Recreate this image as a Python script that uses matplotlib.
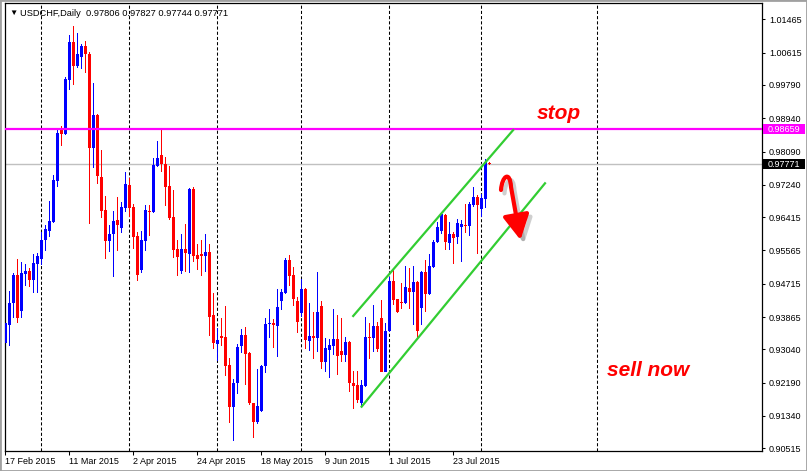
import numpy as np
import matplotlib
matplotlib.use('Agg')
import matplotlib.pyplot as plt
import matplotlib.patheffects as pe
import matplotlib.transforms as mtransforms
from matplotlib.path import Path
from matplotlib.patches import FancyArrowPatch, Rectangle

plt.rcParams['font.family'] = ['Liberation Sans', 'DejaVu Sans']

# USDCHF daily bars, 17 Feb 2015 .. 5 Aug 2015
opens = [
    0.93192, 0.93660, 0.94213, 0.94937, 0.94026, 0.94962, 0.95039, 0.94809, 0.95218, 0.95345,
    0.95830, 0.96069, 0.96281, 0.97337, 0.98664, 0.98528, 0.99915, 1.00877, 1.00281, 1.00511,
    1.00783, 1.00579, 0.98188, 0.99022, 0.97447, 0.96596, 0.95805, 0.95975, 0.96341, 0.96145,
    0.96656, 0.97235, 0.96664, 0.95933, 0.95064, 0.95813, 0.96579, 0.96537, 0.97728, 0.98000,
    0.97771, 0.97209, 0.96409, 0.95601, 0.95047, 0.95592, 0.95473, 0.97132, 0.95447, 0.95473,
    0.95430, 0.95533, 0.93916, 0.93175, 0.93380, 0.93362, 0.92639, 0.91575, 0.92171, 0.93133,
    0.93406, 0.92938, 0.91661, 0.91193, 0.91474, 0.92623, 0.93678, 0.93721, 0.93644, 0.94282,
    0.94486, 0.95320, 0.94937, 0.94282, 0.93976, 0.94580, 0.93261, 0.93380, 0.93338, 0.94155,
    0.92725, 0.93023, 0.93133, 0.93295, 0.92997, 0.92895, 0.93235, 0.92172, 0.92129, 0.91661,
    0.92104, 0.93363, 0.93338, 0.93635, 0.93831, 0.92470, 0.93508, 0.94793, 0.94316, 0.94257,
    0.94214, 0.94614, 0.94495, 0.94767, 0.94103, 0.95023, 0.94444, 0.95150, 0.95771, 0.96069,
    0.96469, 0.95746, 0.95984, 0.95899, 0.96171, 0.96214, 0.96197, 0.96725, 0.96937, 0.96622,
    0.96878, 0.97806]
highs = [
    0.93788, 0.94537, 0.94996, 0.95345, 0.95260, 0.95218, 0.95107, 0.95473, 0.95490, 0.96026,
    0.96213, 0.96826, 0.97490, 0.98639, 0.98741, 0.99983, 1.01064, 1.01294, 1.01107, 1.00834,
    1.00911, 1.00630, 0.99847, 0.99047, 0.98128, 0.96954, 0.96213, 0.96571, 0.96937, 0.96809,
    0.97566, 0.97405, 0.96749, 0.96026, 0.96060, 0.96724, 0.96724, 0.97915, 0.98358, 0.98659,
    0.97958, 0.97720, 0.97107, 0.95830, 0.95984, 0.96239, 0.97166, 0.97192, 0.95728, 0.95830,
    0.95984, 0.95728, 0.94469, 0.93575, 0.93831, 0.94145, 0.92826, 0.92282, 0.93175, 0.93550,
    0.93600, 0.92980, 0.91678, 0.92538, 0.92640, 0.93831, 0.94069, 0.93814, 0.94580, 0.94580,
    0.95380, 0.95448, 0.95133, 0.94367, 0.94835, 0.94597, 0.94214, 0.93984, 0.95006, 0.94282,
    0.93321, 0.93304, 0.94069, 0.93916, 0.93831, 0.93346, 0.93252, 0.92495, 0.92495, 0.92257,
    0.93874, 0.93703, 0.94172, 0.93746, 0.94299, 0.93703, 0.94895, 0.95065, 0.94325, 0.94725,
    0.95167, 0.95125, 0.95167, 0.94784, 0.95040, 0.95320, 0.95474, 0.95831, 0.96299, 0.96512,
    0.96486, 0.96282, 0.96044, 0.96367, 0.96342, 0.96750, 0.96810, 0.97193, 0.96980, 0.96997,
    0.97890, 0.97827]
lows = [
    0.92894, 0.93124, 0.93831, 0.93703, 0.93848, 0.94665, 0.94639, 0.94486, 0.94486, 0.95192,
    0.95550, 0.95898, 0.96256, 0.97192, 0.98230, 0.98511, 0.99660, 0.99788, 1.00230, 1.00196,
    1.00085, 0.96239, 0.97677, 0.97260, 0.96401, 0.95345, 0.95533, 0.94894, 0.95558, 0.96018,
    0.96554, 0.96426, 0.95601, 0.94792, 0.94979, 0.95558, 0.95933, 0.96528, 0.97703, 0.97558,
    0.96698, 0.96341, 0.95362, 0.94911, 0.94962, 0.95022, 0.94996, 0.95277, 0.95064, 0.94911,
    0.95022, 0.93380, 0.93048, 0.92750, 0.93124, 0.92367, 0.91150, 0.90707, 0.91899, 0.92937,
    0.92129, 0.91619, 0.90785, 0.91125, 0.91448, 0.92444, 0.93338, 0.93065, 0.92852, 0.94044,
    0.94452, 0.94665, 0.94155, 0.93465, 0.93874, 0.93048, 0.93006, 0.92784, 0.92980, 0.92538,
    0.92453, 0.92316, 0.92895, 0.92384, 0.92708, 0.92708, 0.91959, 0.91508, 0.91661, 0.91576,
    0.92087, 0.92793, 0.92980, 0.92963, 0.92453, 0.92453, 0.93491, 0.94172, 0.93959, 0.94069,
    0.94197, 0.94069, 0.93661, 0.93278, 0.93661, 0.94001, 0.94427, 0.95108, 0.95763, 0.95984,
    0.95576, 0.95576, 0.95218, 0.95729, 0.95278, 0.96018, 0.95933, 0.96682, 0.95474, 0.96427,
    0.96656, 0.97744]
closes = [
    0.93703, 0.94213, 0.94937, 0.93831, 0.94979, 0.95047, 0.94809, 0.95235, 0.95422, 0.95830,
    0.96111, 0.96315, 0.97362, 0.98554, 0.98537, 0.99941, 1.00877, 1.00281, 1.00579, 1.00783,
    1.00570, 0.98188, 0.99022, 0.97473, 0.96571, 0.95805, 0.95975, 0.96315, 0.96213, 0.96664,
    0.97260, 0.96656, 0.95915, 0.94937, 0.95830, 0.96596, 0.96545, 0.97745, 0.97932, 0.97762,
    0.97192, 0.96401, 0.95575, 0.95388, 0.95592, 0.95490, 0.97132, 0.95430, 0.95345, 0.95430,
    0.95516, 0.93873, 0.93209, 0.93277, 0.93337, 0.92622, 0.91575, 0.92171, 0.93107, 0.93405,
    0.92911, 0.91661, 0.91193, 0.91593, 0.92623, 0.93686, 0.93721, 0.93661, 0.94112, 0.94512,
    0.95320, 0.94920, 0.94325, 0.93746, 0.94580, 0.93278, 0.93380, 0.93338, 0.93984, 0.92725,
    0.93065, 0.93150, 0.93295, 0.92878, 0.92895, 0.93218, 0.92172, 0.92112, 0.91746, 0.92129,
    0.93346, 0.93338, 0.93635, 0.93048, 0.92470, 0.93508, 0.94793, 0.94299, 0.93984, 0.94231,
    0.94640, 0.94512, 0.94767, 0.93516, 0.95023, 0.94452, 0.95167, 0.95788, 0.96171, 0.96495,
    0.95788, 0.95984, 0.95891, 0.96256, 0.96239, 0.96188, 0.96750, 0.96920, 0.96725, 0.96912,
    0.97814, 0.97771]

date_labels = ['17 Feb 2015', '11 Mar 2015', '2 Apr 2015', '24 Apr 2015',
               '18 May 2015', '9 Jun 2015', '1 Jul 2015', '23 Jul 2015']
date_label_bars = [0, 16, 32, 48, 64, 80, 96, 112]
month_start_bars = [9, 31, 53, 74, 96, 119, 148]
price_ticks = [1.01465, 1.00615, 0.99790, 0.98940, 0.98090, 0.97240, 0.96415,
               0.95565, 0.94715, 0.93865, 0.93040, 0.92190, 0.91340, 0.90515]
stop_level = 0.98659
bid_level = 0.97771
upper_channel_x = [86.95, 126.95]
upper_channel_y = [0.93892, 0.98639]
lower_channel_x = [89.05, 134.9]
lower_channel_y = [0.91577, 0.97279]

fig = plt.figure(figsize=(8.07, 4.71), dpi=100)
ax = fig.add_axes([5 / 807, 20 / 471, 757 / 807, 448 / 471])

o = np.array(opens)
h = np.array(highs)
l = np.array(lows)
c = np.array(closes)
x = np.arange(len(o))
colors = ['#0000ff' if cc >= oo else '#ff0000' for oo, cc in zip(opens, closes)]

for b in month_start_bars:
    ax.axvline(b, color='black', lw=0.75, linestyle=(0, (3, 2)), zorder=1)

ax.axhline(bid_level, color='#c0c0c0', lw=1.0, zorder=1.5)

# wicks and bodies as filled rectangles
ax.bar(x, h - l, bottom=l, width=0.25, color=colors, linewidth=0, zorder=2)
body_low = np.minimum(o, c)
body_h = np.maximum(np.abs(c - o), 0.00026)
ax.bar(x, body_h, bottom=body_low, width=0.75, color=colors, linewidth=0, zorder=3)

ax.axhline(stop_level, color='#ff00ff', lw=1.6, zorder=4)

ax.plot(upper_channel_x, upper_channel_y, color='#32cd32', lw=1.6, zorder=5)
ax.plot(lower_channel_x, lower_channel_y, color='#32cd32', lw=1.6, zorder=5)

ax.set_xlim(-0.1, 189.15)
ax.set_ylim(0.90446, 1.01881)

ax.set_xticks(date_label_bars)
ax.set_xticklabels(date_labels, ha='left')
ax.yaxis.tick_right()
ax.set_yticks(price_ticks)
ax.set_yticklabels(['%.5f' % v for v in price_ticks])
ax.tick_params(axis='x', length=3, width=0.75, pad=1.5, labelsize=6.5, direction='out')
ax.tick_params(axis='y', length=2.5, width=0.75, pad=2.5, labelsize=6.5, direction='out')
for s in ax.spines.values():
    s.set_linewidth(0.9)
    s.set_color('black')

# price labels on the right scale
blend = mtransforms.blended_transform_factory(ax.transAxes, ax.transData)
for level, bg in [(stop_level, '#ff00ff'), (bid_level, '#000000')]:
    ax.add_patch(Rectangle((1.0015, level - 0.00125), 0.0555, 0.0025, transform=blend,
                           facecolor=bg, edgecolor='none', clip_on=False, zorder=6))
    ax.text(1.0075, level, '%.5f' % level, transform=blend, color='white', fontsize=6.5,
            va='center', ha='left', zorder=7, clip_on=False)

# header
fig.text(9.5 / 807, 1 - 13 / 471, '\u25bc', fontsize=6, va='center', ha='left')
fig.text(20 / 807, 1 - 13 / 471, 'USDCHF,Daily  0.97806 0.97827 0.97744 0.97771',
         fontsize=6.7, va='center', ha='left')

# annotations
fig.text(537 / 807, 1 - 119 / 471, 'stop', color='#ff0000', fontsize=15,
         fontweight='bold', fontstyle='italic', va='baseline', ha='left')
fig.text(607 / 807, 1 - 376 / 471, 'sell now', color='#ff0000', fontsize=15,
         fontweight='bold', fontstyle='italic', va='baseline', ha='left')

verts = [(123.9, 0.97108), (124.15, 0.97465), (126.15, 0.97618), (126.4, 0.97185),
         (128.78, 0.95832)]
codes = [Path.MOVETO, Path.CURVE4, Path.CURVE4, Path.CURVE4, Path.LINETO]
arrow = FancyArrowPatch(path=Path(verts, codes),
                        arrowstyle='-|>,head_length=0.75,head_width=0.4',
                        mutation_scale=20, color='#ff0000', lw=3, zorder=8,
                        path_effects=[pe.SimpleLineShadow(offset=(2.5, -2.5), shadow_color='#777777',
                                                          alpha=0.35),
                                      pe.Normal()])
ax.add_patch(arrow)

fig.patches.append(Rectangle((0, 0), 1, 1, transform=fig.transFigure, fill=False,
                             edgecolor='#a0a0a0', lw=2))

fig.savefig('out.png', dpi=100)
